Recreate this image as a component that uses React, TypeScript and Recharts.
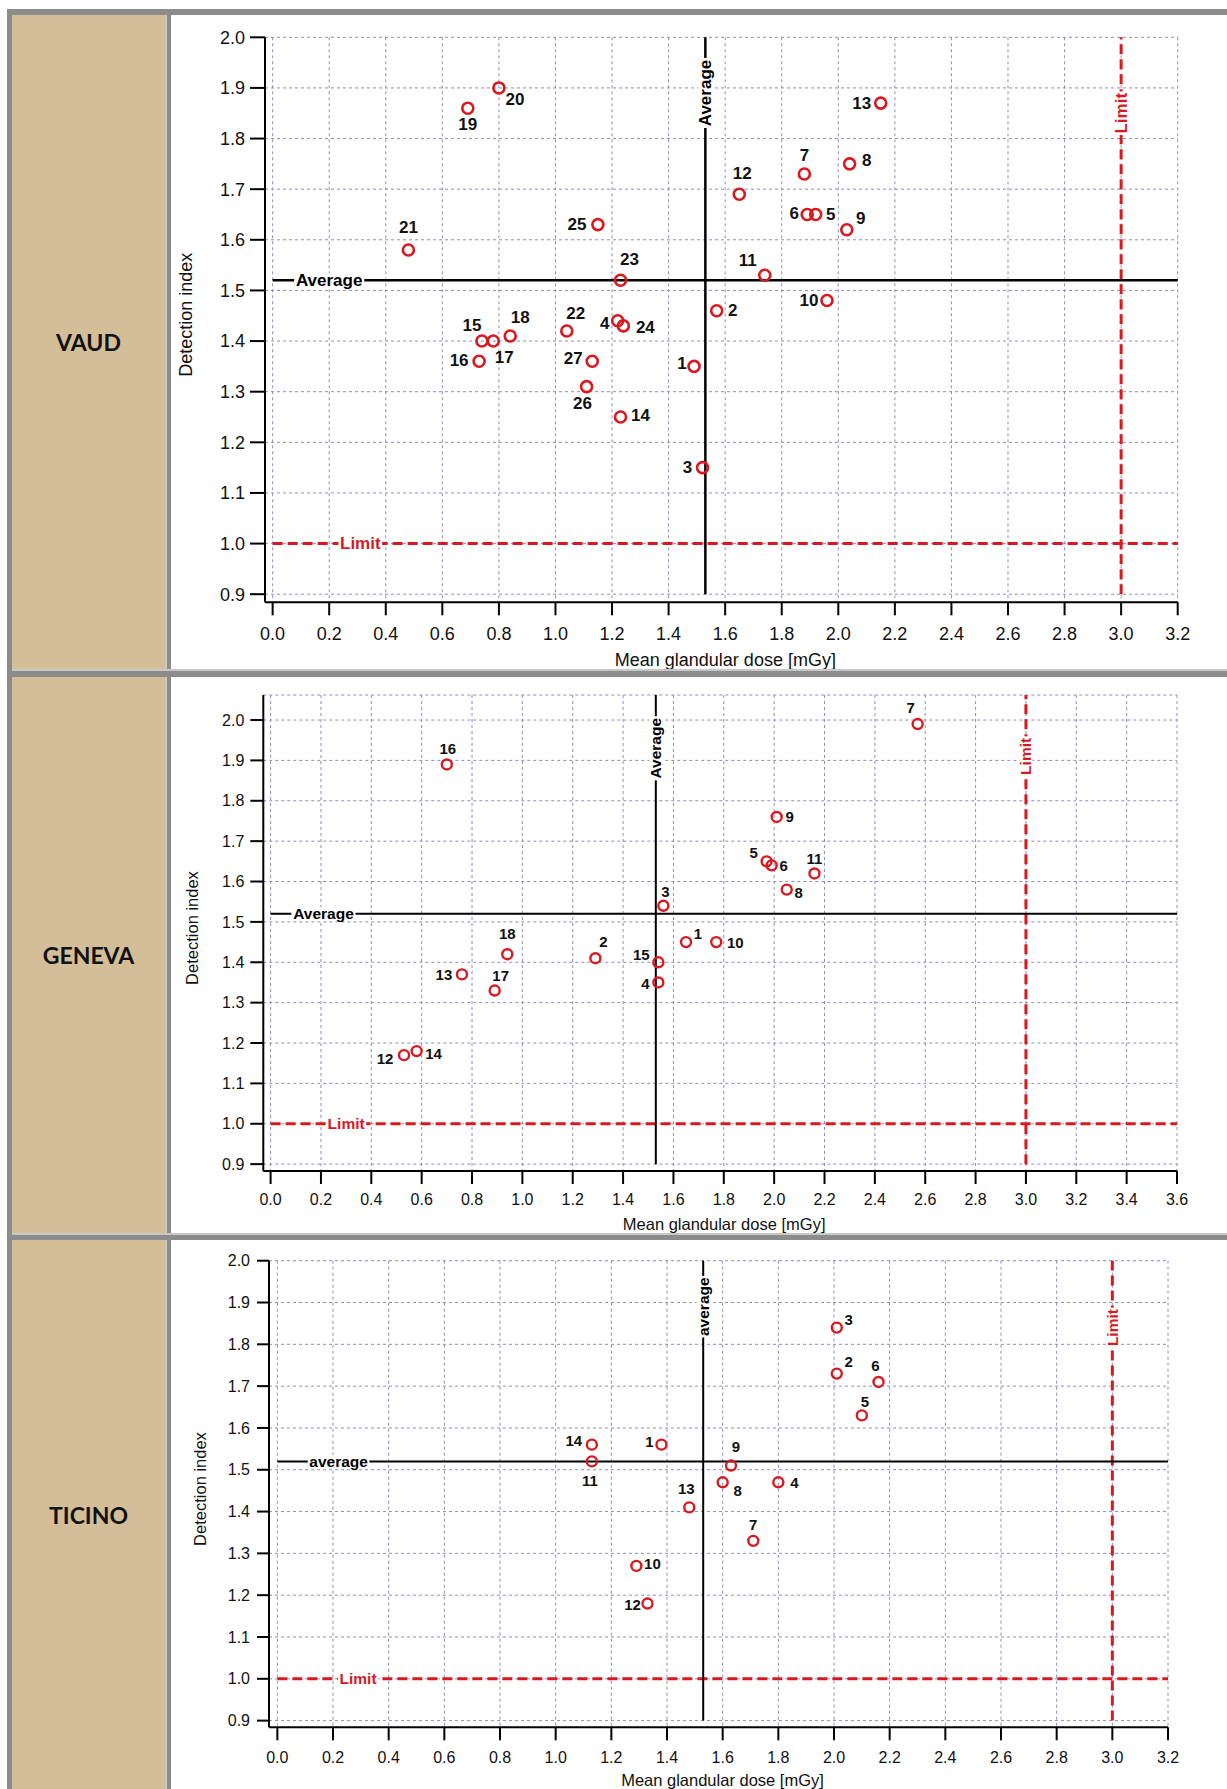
import React from "react";
import {
  CartesianGrid,
  ReferenceDot,
  ReferenceLine,
  Scatter,
  ScatterChart,
  XAxis,
  YAxis,
} from "recharts";

const RED = "#d9181f";
const GRID = "#8c8cc4";
const TAN = "#d3be98";
const FRAME = "#8c8c8c";
const FRAME_LIGHT = "#c8c8c8";
const FONT = "'Liberation Sans', Arial, sans-serif";

// shared axis ticks
const doseTicks32 = [0, 0.2, 0.4, 0.6, 0.8, 1.0, 1.2, 1.4, 1.6, 1.8, 2.0, 2.2, 2.4, 2.6, 2.8, 3.0, 3.2];
const doseTicks36 = [0, 0.2, 0.4, 0.6, 0.8, 1.0, 1.2, 1.4, 1.6, 1.8, 2.0, 2.2, 2.4, 2.6, 2.8, 3.0, 3.2, 3.4, 3.6];
const indexTicks = [0.9, 1.0, 1.1, 1.2, 1.3, 1.4, 1.5, 1.6, 1.7, 1.8, 1.9, 2.0];

const DOSE_LIMIT = 3.0;
const INDEX_LIMIT = 1.0;

// VAUD
const vaudIds = [1, 2, 3, 4, 5, 6, 7, 8, 9, 10, 11, 12, 13, 14, 15, 16, 17, 18, 19, 20, 21, 22, 23, 24, 25, 26, 27];
const vaudDose = [1.49, 1.57, 1.52, 1.22, 1.92, 1.89, 1.88, 2.04, 2.03, 1.96, 1.74, 1.65, 2.15, 1.23, 0.74, 0.73, 0.78, 0.84, 0.69, 0.8, 0.48, 1.04, 1.23, 1.24, 1.15, 1.11, 1.13];
const vaudIndex = [1.35, 1.46, 1.15, 1.44, 1.65, 1.65, 1.73, 1.75, 1.62, 1.48, 1.53, 1.69, 1.87, 1.25, 1.4, 1.36, 1.4, 1.41, 1.86, 1.9, 1.58, 1.42, 1.52, 1.43, 1.63, 1.31, 1.36];
const vaudAvgDose = 1.53;
const vaudAvgIndex = 1.52;

// GENEVA
const genevaIds = [1, 2, 3, 4, 5, 6, 7, 8, 9, 10, 11, 12, 13, 14, 15, 16, 17, 18];
const genevaDose = [1.65, 1.29, 1.56, 1.54, 1.97, 1.99, 2.57, 2.05, 2.01, 1.77, 2.16, 0.53, 0.76, 0.58, 1.54, 0.7, 0.89, 0.94];
const genevaIndex = [1.45, 1.41, 1.54, 1.35, 1.65, 1.64, 1.99, 1.58, 1.76, 1.45, 1.62, 1.17, 1.37, 1.18, 1.4, 1.89, 1.33, 1.42];
const genevaAvgDose = 1.53;
const genevaAvgIndex = 1.52;

// TICINO
const ticinoIds = [1, 2, 3, 4, 5, 6, 7, 8, 9, 10, 11, 12, 13, 14];
const ticinoDose = [1.38, 2.01, 2.01, 1.8, 2.1, 2.16, 1.71, 1.6, 1.63, 1.29, 1.13, 1.33, 1.48, 1.13];
const ticinoIndex = [1.56, 1.73, 1.84, 1.47, 1.63, 1.71, 1.33, 1.47, 1.51, 1.27, 1.52, 1.18, 1.41, 1.56];
const ticinoAvgDose = 1.53;
const ticinoAvgIndex = 1.52;

// label offsets (px from marker centre), layout only
const vaudLabelOffsets = [
  [-12, -3], [16, 0], [-15, 0], [-13, 3], [15, 0], [-13, -1], [0, -18], [17, -3], [14, -11],
  [-18, 0], [-17, -15], [3, -21], [-19, 0], [20, -2], [-10, -16], [-20, -1], [11, 16], [10, -19],
  [0, 16], [16, 12], [0, -22], [9, -17], [9, -21], [22, 2], [-21, 0], [-4, 17], [-19, -3],
];
const genevaLabelOffsets = [
  [12, -9], [8, -17], [2, -14], [-13, 1], [-13, -9], [12, 0], [-7, -17], [12, 3], [13, 0],
  [19, 0], [0, -15], [-19, 3], [-18, 0], [17, 2], [-17, -8], [1, -16], [6, -15], [0, -21],
];
const ticinoLabelOffsets = [
  [-12, -3], [12, -12], [12, -8], [16, 0], [3, -14], [-3, -16], [0, -16], [15, 8], [5, -19],
  [16, -2], [-2, 19], [-15, 1], [-3, -19], [-18, -4],
];

const BOLD_W: Record<string, number> = {
  A: 0.722, v: 0.556, e: 0.556, r: 0.389, a: 0.556, g: 0.611, L: 0.611, i: 0.278, m: 0.889, t: 0.333,
};
const textWidth = (s: string, size: number) =>
  s.split("").reduce((w, c) => w + (BOLD_W[c] ?? 0.556), 0) * size;

function LineLabel(props: any) {
  const { viewBox, text, color, size, vertical } = props;
  if (!viewBox) return null;
  const cx = viewBox.x + (viewBox.width || 0) / 2;
  const cy = viewBox.y + (viewBox.height || 0) / 2;
  const w = textWidth(text, size) + 3;
  const h = size * 0.85;
  return (
    <g transform={vertical ? `rotate(-90 ${cx} ${cy})` : undefined}>
      <rect x={cx - w / 2} y={cy - h / 2} width={w} height={h} fill="#fff" />
      <text
        x={cx}
        y={cy}
        textAnchor="middle"
        dominantBaseline="central"
        fill={color}
        fontSize={size}
        fontWeight="bold"
        fontFamily={FONT}
      >
        {text}
      </text>
    </g>
  );
}

function makeShape(r: number, sw: number, size: number) {
  return (props: any) => {
    const { cx, cy, payload } = props;
    if (cx == null || cy == null) return null;
    return (
      <g>
        <circle cx={cx} cy={cy} r={r} fill="none" stroke={RED} strokeWidth={sw} />
        <text
          x={cx + payload.dx}
          y={cy + payload.dy}
          textAnchor="middle"
          dominantBaseline="central"
          fontSize={size}
          fontWeight="bold"
          fill="#111"
          fontFamily={FONT}
        >
          {payload.id}
        </text>
      </g>
    );
  };
}

function buildRows(ids: number[], dose: number[], index: number[], offsets: number[][]) {
  return ids.map((id, i) => ({ id, x: dose[i], y: index[i], dx: offsets[i][0], dy: offsets[i][1] }));
}

interface PanelCfg {
  top: number;
  height: number;
  marginTop: number;
  marginRight: number;
  yAxisWidth: number;
  xAxisHeight: number;
  xDomain: [number, number];
  yDomain: [number, number];
  doseTicks: number[];
  tickFont: number;
  xTickSize: number;
  xTickMargin: number;
  yTickSize: number;
  yTickMargin: number;
  titleFont: number;
  yTitleOffset: number;
  xTitleOffset: number;
  markerR: number;
  markerStroke: number;
  labelFont: number;
  lineFont: number;
  avgStroke: number;
  avgText: string;
  avgLabelDose: number;
  avgLabelIndex: number;
  limitLabelDose: number;
  limitLabelIndex: number;
  avgTopIndex: number;
  limitTopIndex: number;
}

function Panel({ cfg, rows, avgDose, avgIndex }: { cfg: PanelCfg; rows: any[]; avgDose: number; avgIndex: number }) {
  const xMax = cfg.xDomain[1];
  return (
    <div style={{ position: "absolute", left: 171, top: cfg.top }}>
      <ScatterChart
        width={1056}
        height={cfg.height}
        margin={{ top: cfg.marginTop, right: cfg.marginRight, bottom: 0, left: 0 }}
        style={{ fontFamily: FONT }}
      >
        <CartesianGrid stroke={GRID} strokeDasharray="3 3" strokeWidth={1} />
        <XAxis
          type="number"
          dataKey="x"
          domain={cfg.xDomain}
          ticks={cfg.doseTicks}
          allowDataOverflow
          interval={0}
          height={cfg.xAxisHeight}
          tickFormatter={(v: number) => v.toFixed(1)}
          tick={{ fill: "#111", fontSize: cfg.tickFont, fontFamily: FONT }}
          tickSize={cfg.xTickSize}
          tickMargin={cfg.xTickMargin}
          tickLine={{ stroke: "#000", strokeWidth: 2 }}
          axisLine={{ stroke: "#000", strokeWidth: 2 }}
          label={{
            value: "Mean glandular dose [mGy]",
            position: "insideBottom",
            offset: cfg.xTitleOffset,
            dx: 4,
            fill: "#111",
            fontSize: cfg.titleFont,
            fontFamily: FONT,
          }}
        />
        <YAxis
          type="number"
          dataKey="y"
          domain={cfg.yDomain}
          ticks={indexTicks}
          allowDataOverflow
          interval={0}
          width={cfg.yAxisWidth}
          tickFormatter={(v: number) => v.toFixed(1)}
          tick={{ fill: "#111", fontSize: cfg.tickFont, fontFamily: FONT }}
          tickSize={cfg.yTickSize}
          tickMargin={cfg.yTickMargin}
          tickLine={{ stroke: "#000", strokeWidth: 2 }}
          axisLine={{ stroke: "#000", strokeWidth: 2 }}
          label={{
            value: "Detection index",
            angle: -90,
            position: "insideLeft",
            offset: cfg.yTitleOffset,
            dy: -5,
            fill: "#111",
            fontSize: cfg.titleFont,
            fontFamily: FONT,
            style: { textAnchor: "middle" },
          }}
        />
        <ReferenceLine
          segment={[{ x: 0, y: INDEX_LIMIT }, { x: xMax, y: INDEX_LIMIT }]}
          stroke={RED}
          strokeWidth={3}
          strokeDasharray="10 5"
        />
        <ReferenceLine
          segment={[{ x: DOSE_LIMIT, y: 0.9 }, { x: DOSE_LIMIT, y: cfg.limitTopIndex }]}
          stroke={RED}
          strokeWidth={3}
          strokeDasharray="10 5"
        />
        <ReferenceLine
          segment={[{ x: 0, y: avgIndex }, { x: xMax, y: avgIndex }]}
          stroke="#000"
          strokeWidth={cfg.avgStroke}
        />
        <ReferenceLine
          segment={[{ x: avgDose, y: 0.9 }, { x: avgDose, y: cfg.avgTopIndex }]}
          stroke="#000"
          strokeWidth={cfg.avgStroke}
        />
        <ReferenceDot
          x={cfg.avgLabelDose}
          y={avgIndex}
          r={1}
          fill="none"
          stroke="none"
          label={<LineLabel text={cfg.avgText} color="#000" size={cfg.lineFont} />}
        />
        <ReferenceDot
          x={avgDose}
          y={cfg.avgLabelIndex}
          r={1}
          fill="none"
          stroke="none"
          label={<LineLabel text={cfg.avgText} color="#000" size={cfg.lineFont} vertical />}
        />
        <ReferenceDot
          x={cfg.limitLabelDose}
          y={INDEX_LIMIT}
          r={1}
          fill="none"
          stroke="none"
          label={<LineLabel text="Limit" color={RED} size={cfg.lineFont} />}
        />
        <ReferenceDot
          x={DOSE_LIMIT}
          y={cfg.limitLabelIndex}
          r={1}
          fill="none"
          stroke="none"
          label={<LineLabel text="Limit" color={RED} size={cfg.lineFont} vertical />}
        />
        <Scatter
          data={rows}
          dataKey="y"
          isAnimationActive={false}
          shape={makeShape(cfg.markerR, cfg.markerStroke, cfg.labelFont)}
        />
      </ScatterChart>
    </div>
  );
}

const vaudCfg: PanelCfg = {
  top: 15, height: 654, marginTop: 22.3, marginRight: 49.3, yAxisWidth: 94, xAxisHeight: 66.7,
  xDomain: [-0.027, 3.2], yDomain: [0.884, 2.0], doseTicks: doseTicks32,
  tickFont: 18, xTickSize: 13, xTickMargin: 12, yTickSize: 15, yTickMargin: 5,
  titleFont: 18, yTitleOffset: 15, xTitleOffset: 2.6, markerR: 5.5, markerStroke: 2.6, labelFont: 17, lineFont: 17,
  avgStroke: 2.5, avgText: "Average", avgLabelDose: 0.2, avgLabelIndex: 1.89,
  limitLabelDose: 0.31, limitLabelIndex: 1.85, avgTopIndex: 2.0, limitTopIndex: 2.0,
};

const genevaCfg: PanelCfg = {
  top: 677, height: 556, marginTop: 18, marginRight: 50, yAxisWidth: 92.3, xAxisHeight: 62,
  xDomain: [-0.029, 3.6], yDomain: [0.883, 2.062], doseTicks: doseTicks36,
  tickFont: 16, xTickSize: 13, xTickMargin: 10, yTickSize: 13, yTickMargin: 6,
  titleFont: 16.5, yTitleOffset: 21, xTitleOffset: 3.5, markerR: 5, markerStroke: 2.4, labelFont: 15, lineFont: 15.5,
  avgStroke: 2, avgText: "Average", avgLabelDose: 0.21, avgLabelIndex: 1.93,
  limitLabelDose: 0.3, limitLabelIndex: 1.91, avgTopIndex: 2.062, limitTopIndex: 2.062,
};

const ticinoCfg: PanelCfg = {
  top: 1240, height: 549, marginTop: 20.7, marginRight: 59, yAxisWidth: 98, xAxisHeight: 61.7,
  xDomain: [-0.03, 3.2], yDomain: [0.884, 2.0], doseTicks: doseTicks32,
  tickFont: 16, xTickSize: 13, xTickMargin: 11, yTickSize: 12, yTickMargin: 7,
  titleFont: 16.5, yTitleOffset: 29, xTitleOffset: 3.5, markerR: 5, markerStroke: 2.4, labelFont: 15, lineFont: 15.5,
  avgStroke: 2, avgText: "average", avgLabelDose: 0.22, avgLabelIndex: 1.89,
  limitLabelDose: 0.29, limitLabelIndex: 1.84, avgTopIndex: 2.0, limitTopIndex: 2.0,
};

const box = (left: number, top: number, width: number, height: number, background: string): React.CSSProperties => ({
  position: "absolute", left, top, width, height, background,
});

const rowLabel = (top: number, height: number): React.CSSProperties => ({
  position: "absolute", left: 12, top, width: 153, height,
  display: "flex", alignItems: "center", justifyContent: "center",
  fontFamily: "Lato, 'Open Sans', sans-serif", fontWeight: 700, fontSize: 23, color: "#111",
});

export default function App() {
  const vaudRows = buildRows(vaudIds, vaudDose, vaudIndex, vaudLabelOffsets);
  const genevaRows = buildRows(genevaIds, genevaDose, genevaIndex, genevaLabelOffsets);
  const ticinoRows = buildRows(ticinoIds, ticinoDose, ticinoIndex, ticinoLabelOffsets);
  return (
    <div style={{ position: "absolute", left: 0, top: 0, width: 1227, height: 1789, background: "#fff", overflow: "hidden" }}>
      <div style={box(7, 9, 1220, 6, FRAME)} />
      <div style={box(7, 9, 5, 1780, FRAME)} />
      <div style={box(12, 15, 153, 1774, TAN)} />
      <div style={box(165, 15, 2, 1774, FRAME_LIGHT)} />
      <div style={box(167, 15, 4, 1774, FRAME)} />
      <div style={box(12, 669, 1215, 2, FRAME_LIGHT)} />
      <div style={box(12, 671, 1215, 6, FRAME)} />
      <div style={box(12, 1233, 1215, 2, FRAME_LIGHT)} />
      <div style={box(12, 1235, 1215, 5, FRAME)} />
      <div style={rowLabel(15, 654)}>VAUD</div>
      <div style={rowLabel(677, 556)}>GENEVA</div>
      <div style={rowLabel(1240, 549)}>TICINO</div>
      <Panel cfg={vaudCfg} rows={vaudRows} avgDose={vaudAvgDose} avgIndex={vaudAvgIndex} />
      <Panel cfg={genevaCfg} rows={genevaRows} avgDose={genevaAvgDose} avgIndex={genevaAvgIndex} />
      <Panel cfg={ticinoCfg} rows={ticinoRows} avgDose={ticinoAvgDose} avgIndex={ticinoAvgIndex} />
    </div>
  );
}
